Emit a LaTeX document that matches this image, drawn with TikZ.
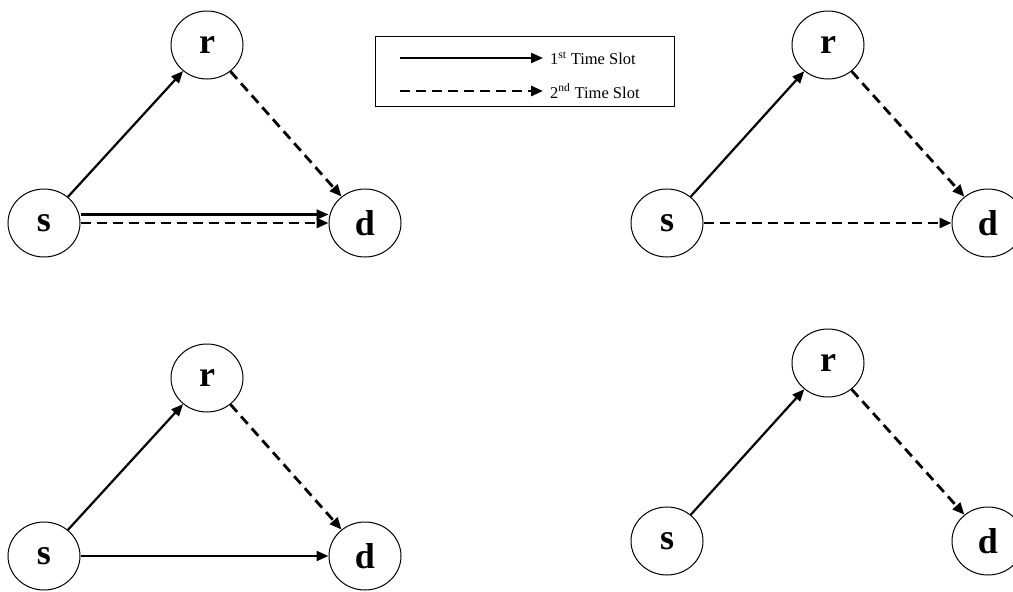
\documentclass[tikz,border=0pt]{standalone}
\usepackage{fontspec}
\setmainfont{Liberation Serif}
\usetikzlibrary{arrows.meta,shapes.geometric}
\begin{document}
\begin{tikzpicture}[x=1pt,y=-1pt,
  nd/.style={draw,line width=1pt,ellipse,minimum width=72pt,minimum height=68pt,inner sep=0pt,font=\fontsize{36}{36}\selectfont\bfseries},
  sol/.style={line width=2.2pt,-{Triangle[length=12pt,width=10pt]}},
  dsh/.style={line width=2.8pt,dash pattern=on 10pt off 6pt,-{Triangle[length=12pt,width=10pt]}},
  lg/.style={font=\fontsize{16.5}{16.5}\selectfont,anchor=west,inner sep=0pt}]
\useasboundingbox (0,0) rectangle (1013,592);
\clip (0,0) rectangle (1013,592);
% top-left
\node[nd] (r1) at (207,45) {r};
\node[nd] (s1) at (44,223) {s};
\node[nd] (d1) at (365,223) {d};
\draw[sol] (s1) -- (r1);
\draw[dsh] (r1) -- (d1);
\draw[sol] ([yshift=8.5pt]s1.east) -- ([yshift=8.5pt]d1.west);
\draw[dsh] (s1) -- (d1);
% top-right
\node[nd] (r2) at (828,45) {r};
\node[nd] (s2) at (667,223) {s};
\node[nd] (d2) at (988,223) {d};
\draw[sol] (s2) -- (r2);
\draw[dsh] (r2) -- (d2);
\draw[dsh] (s2) -- (d2);
% bottom-left
\node[nd] (r3) at (207,378) {r};
\node[nd] (s3) at (44,556) {s};
\node[nd] (d3) at (365,556) {d};
\draw[sol] (s3) -- (r3);
\draw[dsh] (r3) -- (d3);
\draw[sol] (s3) -- (d3);
% bottom-right
\node[nd] (r4) at (828,363) {r};
\node[nd] (s4) at (667,541) {s};
\node[nd] (d4) at (988,541) {d};
\draw[sol] (s4) -- (r4);
\draw[dsh] (r4) -- (d4);
% legend
\node[draw,line width=0.8pt,minimum width=299pt,minimum height=70pt,inner sep=0pt] (box) at (524.5,71) {};
\coordinate (a1) at (400,58);
\coordinate (b1) at (543,58);
\coordinate (a2) at (400,91);
\coordinate (b2) at (543,91);
\draw[sol] (a1) -- (b1);
\draw[dsh] (a2) -- (b2);
\node[lg] (t1) at (550,58) {1\textsuperscript{st} Time Slot};
\node[lg] (t2) at (550,91) {2\textsuperscript{nd} Time Slot};
\end{tikzpicture}
\end{document}
